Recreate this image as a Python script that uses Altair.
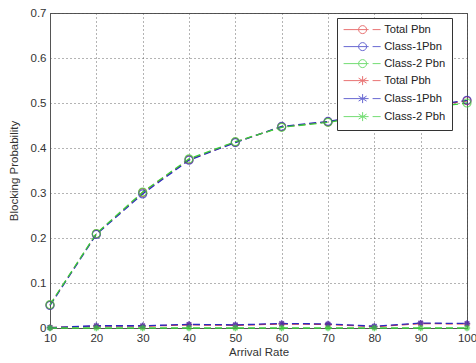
import altair as alt
import pandas as pd

arrival = [10, 20, 30, 40, 50, 60, 70, 80, 90, 100]
total_pbn = [0.051, 0.209, 0.301, 0.374, 0.413, 0.447, 0.458, 0.476, 0.490, 0.505]
class1_pbn = [0.050, 0.208, 0.298, 0.373, 0.412, 0.448, 0.459, 0.475, 0.491, 0.506]
class2_pbn = [0.052, 0.210, 0.302, 0.376, 0.414, 0.446, 0.457, 0.474, 0.488, 0.500]
total_pbh = [0.001, 0.004, 0.004, 0.007, 0.006, 0.009, 0.008, 0.003, 0.010, 0.009]
class1_pbh = [0.001, 0.005, 0.005, 0.008, 0.007, 0.010, 0.009, 0.004, 0.011, 0.010]
class2_pbh = [0.0, 0.0, 0.0, 0.0, 0.0, 0.0, 0.0, 0.0, 0.0, 0.0]

series_names = ["Total Pbn", "Class-1Pbn", "Class-2 Pbn", "Total Pbh", "Class-1Pbh", "Class-2 Pbh"]
series_vals = [total_pbn, class1_pbn, class2_pbn, total_pbh, class1_pbh, class2_pbh]
colors = ["#e03a3a", "#2a2ac0", "#3ad03a", "#e03a3a", "#2a2ac0", "#3ad03a"]

rows = []
for i, (name, vals) in enumerate(zip(series_names, series_vals)):
    kind = "n" if "Pbn" in name else "h"
    for xv, yv in zip(arrival, vals):
        rows.append({"x": xv, "y": yv, "series": name, "kind": kind, "order": i})
df = pd.DataFrame(rows)

circ_leg = "M-1,0L4,0M4.8,0L6.4,0M3.6,0A0.8,0.8 0 1 1 2,0A0.8,0.8 0 1 1 3.6,0"
star_leg = "M-1,0L4,0M4.8,0L6.4,0M2.8,-0.9L2.8,0.9M2,-0.5L3.6,0.5M2,0.5L3.6,-0.5"
star_pt = "M0,-1L0,1M-1,0L1,0M-0.7,-0.7L0.7,0.7M-0.7,0.7L0.7,-0.7"

color_scale = alt.Scale(domain=series_names, range=colors)
xenc = alt.X("x:Q", scale=alt.Scale(domain=[10, 100], nice=False),
             axis=alt.Axis(values=arrival, title="Arrival Rate", format="d"))
yenc = alt.Y("y:Q", scale=alt.Scale(domain=[0, 0.7], nice=False),
             axis=alt.Axis(values=[0, 0.1, 0.2, 0.3, 0.4, 0.5, 0.6, 0.7],
                           title="Blocking Probability", format="~g"))

legend_def = alt.Legend(orient="none", legendX=287, legendY=5,
                        fillColor="white", strokeColor="#333",
                        padding=6, symbolSize=100, symbolStrokeWidth=1,
                        labelOffset=30, rowPadding=4, symbolType="circle",
                        labelFontSize=11.2, labelFont="Liberation Sans",
                        labelColor="#222")
cenc = alt.Color("series:N", scale=color_scale, title=None, legend=legend_def)

base = alt.Chart(df)

lines = base.mark_line(strokeDash=[7, 4], strokeWidth=1.3).encode(
    x=xenc, y=yenc, color=cenc, order=alt.Order("order:Q"),
)

pts_n = base.transform_filter("datum.kind == 'n'").mark_point(
    shape="circle", size=64, filled=False, strokeWidth=1.2
).encode(x=xenc, y=yenc, color=cenc)

pts_h = base.transform_filter("datum.kind == 'h'").mark_point(
    shape=star_pt, size=40, filled=False, strokeWidth=1.5
).encode(x=xenc, y=yenc, color=cenc)

legend_layer = base.transform_filter("datum.x < 0").mark_point(filled=False).encode(
    x=xenc, y=yenc, color=cenc,
    shape=alt.Shape("series:N", title=None, legend=legend_def,
                    scale=alt.Scale(domain=series_names,
                                    range=[circ_leg, circ_leg, circ_leg, star_leg, star_leg, star_leg])),
)

chart = alt.layer(lines, pts_n, pts_h, legend_layer).properties(
    width=417, height=315,
    autosize=alt.AutoSizeParams(type="none"),
    padding={"left": 50, "top": 13, "right": 9, "bottom": 35},
).configure_view(stroke="#555", strokeWidth=1).configure_axis(
    grid=True, gridColor="#444", gridDash=[1, 3], gridOpacity=0.8,
    ticks=False, labelPadding=4, domainColor="#555", labelFlush=False,
    labelFont="Liberation Sans", labelFontSize=11.5, labelColor="#333",
    titleFont="Liberation Sans", titleFontSize=11.5, titleFontWeight="normal", titleColor="#333",
).configure_axisX(titlePadding=3).configure_axisY(titlePadding=11)

chart.save("out.html", embed_options={"renderer": "svg", "actions": False})
